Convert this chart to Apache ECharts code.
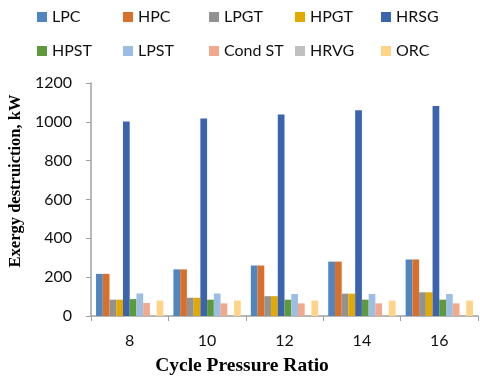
<!DOCTYPE html>
<html>
<head>
<meta charset="utf-8">
<script src="https://cdn.jsdelivr.net/npm/echarts@6/dist/echarts.min.js"></script>
<style>
  html, body { margin: 0; padding: 0; background: #fff; }
  #main { width: 480px; height: 376px; }
</style>
</head>
<body>
<div id="main"></div>
<script>
// cycle pressure ratios
var ratios = ['8', '10', '12', '14', '16'];

// exergy destruction per component, kW
var lpc    = [217, 240, 260, 280, 291];
var hpc    = [217, 240, 260, 280, 291];
var lpgt   = [84, 94, 102, 115, 122];
var hpgt   = [84, 94, 102, 115, 122];
var hrsg   = [1002, 1017, 1038, 1060, 1082];
var hpst   = [87, 84, 84, 84, 84];
var lpst   = [116, 116, 113, 113, 113];
var condSt = [67, 65, 65, 65, 65];
var hrvg   = [0, 0, 0, 0, 0];
var orc    = [79, 79, 79, 79, 79];

var yTicks = [0, 200, 400, 600, 800, 1000, 1200];

var names = ['LPC', 'HPC', 'LPGT', 'HPGT', 'HRSG', 'HPST', 'LPST', 'Cond ST', 'HRVG', 'ORC'];
var values = [lpc, hpc, lpgt, hpgt, hrsg, hpst, lpst, condSt, hrvg, orc];
var colors = ['#4F86C0', '#D8702C', '#929292', '#E2A900', '#3C64AE',
              '#5E9A3C', '#9CBEE4', '#F0A98C', '#C0C0C0', '#FFD488'];

var myChart = echarts.init(document.getElementById('main'));

// legend laid out as a 5 x 2 grid, one legend per entry
var legends = names.map(function (n, i) {
    return {
        data: [n], left: 32 + (i % 5) * 86, top: i < 5 ? 4 : 38,
        itemWidth: 10, itemHeight: 10, itemGap: 5, icon: 'rect', selectedMode: false,
        textStyle: { fontFamily: 'Lato', fontSize: 16, color: '#111' }
    };
});

myChart.setOption({
    animation: false,
    color: colors,
    title: {
        text: 'Cycle Pressure Ratio',
        left: 237, top: 351, textAlign: 'center',
        textStyle: { fontFamily: 'Liberation Serif', fontWeight: 'bold', fontSize: 19.5, color: '#000' }
    },
    graphic: [{
        type: 'text', x: 16, y: 181, rotation: Math.PI / 2,
        style: {
            text: 'Exergy destruiction, kW', align: 'center', verticalAlign: 'middle',
            font: 'bold 16.5px "Liberation Serif"', fill: '#000'
        }
    }],
    legend: legends,
    grid: { left: 91, right: 2, top: 83, bottom: 60, containLabel: false },
    xAxis: {
        type: 'category',
        data: ratios,
        axisLine: { lineStyle: { color: '#A0A0A0', width: 1.5 } },
        axisTick: { show: true, length: 5, lineStyle: { color: '#A0A0A0' } },
        axisLabel: { fontFamily: 'Lato', fontSize: 16, color: '#111', margin: 17 }
    },
    yAxis: {
        type: 'value',
        min: yTicks[0], max: yTicks[yTicks.length - 1], interval: 200,
        axisLine: { show: true, lineStyle: { color: '#A0A0A0', width: 1.5 } },
        axisTick: { show: true, length: 5, lineStyle: { color: '#A0A0A0' } },
        splitLine: { show: false },
        axisLabel: { fontFamily: 'Lato', fontSize: 16, color: '#111', margin: 19,
                     formatter: function (v) { return String(v); } }
    },
    series: names.map(function (n, i) {
        return { name: n, type: 'bar', data: values[i], barGap: 0, barCategoryGap: '13%' };
    })
});
</script>
</body>
</html>
